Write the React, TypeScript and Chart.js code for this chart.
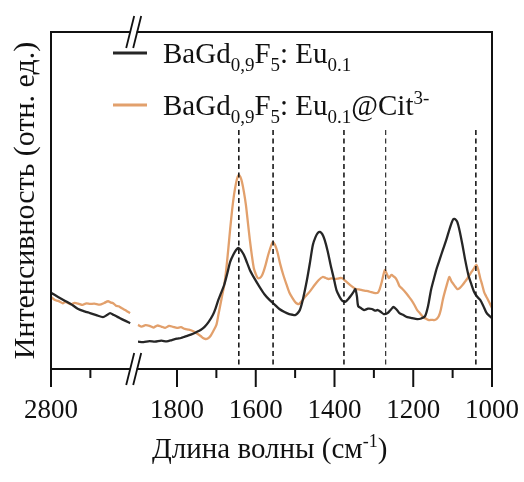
import React, { useEffect, useRef } from 'react';
import { Chart, registerables } from 'chart.js';

Chart.register(...registerables);

const SERIF = '"Liberation Serif", "Times New Roman", Times, serif';

// Axis break: 2800..2600 | 1900..1000 (wavenumber, cm-1)
const BREAK_HIGH = 2600;
const BREAK_LOW = 1900;
const BREAK_GAP = 20;

const majorTicks = [2800, 1800, 1600, 1400, 1200, 1000];
const minorTicks = [2700, 1700, 1500, 1300, 1100];
const peakLines = [1643, 1556, 1376, 1270, 1041];

// BaGd0,9F5:Eu0.1 (black)
const blackLeftWn = [2800, 2782, 2764, 2745, 2731, 2715, 2701, 2685, 2668, 2658, 2650, 2640, 2630, 2615, 2599];
const blackLeftI = [22.6, 21.4, 20.2, 18.9, 17.8, 17.1, 16.6, 16.0, 15.4, 16.0, 16.6, 16.0, 15.4, 14.5, 13.6];
const blackRightWn = [1899, 1885, 1870, 1856, 1840, 1826, 1813, 1800, 1790, 1780, 1765, 1750, 1740, 1730, 1720, 1709, 1702, 1695, 1688, 1680, 1672, 1665, 1657, 1650, 1643, 1636, 1630, 1622, 1615, 1603, 1590, 1578, 1565, 1552, 1540, 1527, 1515, 1507, 1500, 1494, 1488, 1480, 1470, 1462, 1455, 1448, 1442, 1437, 1431, 1425, 1417, 1410, 1402, 1395, 1387, 1380, 1372, 1365, 1358, 1352, 1347, 1343, 1340, 1332, 1325, 1315, 1305, 1297, 1290, 1282, 1275, 1265, 1257, 1250, 1242, 1235, 1225, 1215, 1203, 1190, 1180, 1170, 1162, 1155, 1147, 1140, 1132, 1125, 1117, 1110, 1103, 1098, 1093, 1088, 1082, 1075, 1068, 1060, 1052, 1045, 1038, 1030, 1022, 1015, 1008, 1000];
const blackRightI = [8.1, 8.0, 8.3, 8.1, 8.4, 8.2, 8.6, 9.0, 9.2, 9.6, 10.2, 11.0, 11.6, 12.5, 13.9, 16.0, 18.0, 20.5, 22.6, 25.0, 28.5, 31.8, 33.9, 35.3, 35.9, 35.0, 33.8, 31.5, 29.4, 26.8, 24.3, 22.2, 20.5, 19.1, 17.8, 16.9, 16.3, 16.1, 16.0, 16.5, 17.5, 20.8, 26.4, 31.8, 36.8, 39.2, 40.4, 40.7, 40.0, 38.3, 34.8, 30.9, 27.0, 23.4, 21.4, 20.2, 20.0, 20.8, 21.8, 22.8, 23.7, 21.5, 18.7, 18.0, 17.5, 17.9, 17.8, 17.3, 17.5, 16.9, 16.3, 16.6, 17.6, 18.4, 17.6, 16.6, 16.0, 15.4, 15.1, 14.8, 15.0, 15.7, 18.9, 23.4, 27.0, 30.0, 32.8, 35.3, 38.0, 40.7, 43.2, 44.5, 44.4, 43.6, 40.9, 36.8, 32.3, 27.9, 25.0, 22.8, 21.5, 20.5, 18.7, 16.9, 15.9, 15.1];

// BaGd0,9F5:Eu0.1@Cit3- (orange)
const orangeLeftWn = [2800, 2790, 2782, 2770, 2764, 2750, 2740, 2731, 2720, 2710, 2701, 2690, 2676, 2665, 2655, 2648, 2643, 2635, 2628, 2620, 2612, 2605, 2599];
const orangeLeftI = [21.4, 20.5, 20.2, 19.5, 19.9, 19.2, 19.6, 19.4, 19.0, 19.5, 19.3, 19.4, 19.1, 19.6, 20.1, 19.7, 19.6, 18.8, 18.6, 18.0, 17.5, 17.0, 16.6];
const orangeRightWn = [1899, 1890, 1880, 1870, 1860, 1850, 1840, 1830, 1820, 1810, 1800, 1790, 1780, 1770, 1760, 1750, 1740, 1734, 1728, 1721, 1715, 1708, 1700, 1695, 1690, 1685, 1680, 1675, 1670, 1665, 1660, 1655, 1650, 1646, 1643, 1639, 1635, 1630, 1625, 1620, 1615, 1610, 1605, 1600, 1595, 1590, 1585, 1580, 1575, 1569, 1563, 1559, 1556, 1551, 1545, 1538, 1530, 1522, 1515, 1507, 1500, 1495, 1490, 1482, 1475, 1467, 1460, 1450, 1440, 1430, 1422, 1415, 1407, 1400, 1392, 1385, 1380, 1375, 1368, 1360, 1352, 1345, 1338, 1330, 1322, 1315, 1307, 1300, 1295, 1290, 1285, 1280, 1276, 1272, 1267, 1262, 1258, 1255, 1250, 1245, 1240, 1235, 1228, 1220, 1212, 1205, 1197, 1190, 1182, 1175, 1167, 1160, 1153, 1147, 1141, 1135, 1130, 1125, 1120, 1115, 1111, 1108, 1103, 1098, 1093, 1088, 1082, 1075, 1068, 1060, 1052, 1045, 1040, 1035, 1030, 1025, 1020, 1015, 1010, 1005, 1000];
const orangeRightI = [13.1, 12.6, 13.0, 12.8, 12.3, 12.9, 12.6, 12.2, 12.8, 12.5, 12.2, 12.4, 11.9, 11.7, 11.3, 10.6, 9.8, 9.2, 8.9, 9.1, 9.8, 11.2, 13.1, 16.0, 19.0, 22.0, 24.9, 29.5, 35.3, 41.5, 47.2, 51.8, 55.2, 57.0, 57.6, 57.0, 55.5, 52.5, 48.7, 43.5, 38.3, 33.8, 30.0, 28.2, 27.0, 27.0, 27.6, 29.0, 30.9, 33.6, 35.9, 37.2, 37.7, 36.8, 34.7, 31.2, 27.9, 25.1, 22.8, 21.1, 19.9, 19.4, 19.3, 20.3, 21.4, 22.4, 23.4, 25.0, 26.4, 27.3, 27.0, 26.7, 26.9, 26.7, 26.8, 27.0, 26.9, 26.4, 25.7, 24.9, 24.2, 23.7, 23.6, 23.4, 23.2, 23.1, 22.8, 22.6, 22.5, 22.6, 23.8, 25.8, 27.8, 29.4, 28.2, 27.0, 27.6, 27.9, 27.5, 27.0, 26.0, 24.6, 23.8, 22.8, 21.6, 20.5, 19.0, 17.5, 16.4, 15.4, 14.9, 14.5, 14.6, 14.5, 14.8, 15.7, 17.6, 20.5, 22.8, 24.9, 26.5, 27.3, 26.0, 25.2, 24.4, 23.7, 24.0, 24.9, 26.0, 27.3, 28.8, 30.0, 30.9, 29.5, 27.0, 25.0, 22.8, 21.6, 20.5, 19.3, 18.1];

const BLACK = '#262626';
const ORANGE = 'rgb(226,160,108)';

function toAxis(wn: number): number {
  return wn > (BREAK_HIGH + BREAK_LOW) / 2 ? wn - (BREAK_HIGH - BREAK_LOW) + BREAK_GAP : wn;
}
function fromAxis(v: number): number {
  return v > BREAK_LOW + BREAK_GAP / 2 ? v + (BREAK_HIGH - BREAK_LOW) - BREAK_GAP : v;
}
function pts(wn: number[], iv: number[]) {
  return wn.map((w, i) => ({ x: toAxis(w), y: iv[i] }));
}

type Run = { t: string; k: 'n' | 'sub' | 'sup' };

const legendItems: { color: string; runs: Run[] }[] = [
  {
    color: BLACK,
    runs: [
      { t: 'BaGd', k: 'n' }, { t: '0,9', k: 'sub' }, { t: 'F', k: 'n' }, { t: '5', k: 'sub' },
      { t: ': Eu', k: 'n' }, { t: '0.1', k: 'sub' },
    ],
  },
  {
    color: ORANGE,
    runs: [
      { t: 'BaGd', k: 'n' }, { t: '0,9', k: 'sub' }, { t: 'F', k: 'n' }, { t: '5', k: 'sub' },
      { t: ': Eu', k: 'n' }, { t: '0.1', k: 'sub' }, { t: '@Cit', k: 'n' }, { t: '3-', k: 'sup' },
    ],
  },
];

const xTitleRuns: Run[] = [
  { t: 'Длина волны (см', k: 'n' }, { t: '-1', k: 'sup' }, { t: ')', k: 'n' },
];

function drawRuns(ctx: CanvasRenderingContext2D, runs: Run[], x: number, y: number, size: number, small: number) {
  let cx = x;
  for (const r of runs) {
    const fs = r.k === 'n' ? size : small;
    ctx.font = `${fs}px ${SERIF}`;
    const dy = r.k === 'sub' ? size * 0.28 : r.k === 'sup' ? -size * 0.38 : 0;
    ctx.fillText(r.t, cx, y + dy);
    cx += ctx.measureText(r.t).width;
  }
  return cx;
}

const decorPlugin = {
  id: 'decor',
  afterDatasetsDraw(chart: any) {
    const ctx: CanvasRenderingContext2D = chart.ctx;
    const xs = chart.scales.x;
    const area = chart.chartArea;
    ctx.save();
    ctx.strokeStyle = '#1a1a1a';
    ctx.setLineDash([5, 3.5]);
    peakLines.forEach((p, i) => {
      const x = xs.getPixelForValue(toAxis(p));
      ctx.lineWidth = i === 3 ? 1.1 : 1.6;
      ctx.beginPath();
      ctx.moveTo(x, 130);
      ctx.lineTo(x, area.bottom);
      ctx.stroke();
    });
    ctx.restore();
  },
  afterDraw(chart: any) {
    const ctx: CanvasRenderingContext2D = chart.ctx;
    const xs = chart.scales.x;
    const { left, right, top, bottom } = chart.chartArea;
    ctx.save();
    ctx.strokeStyle = '#111';
    ctx.lineWidth = 2;
    ctx.lineCap = 'butt';
    // frame
    ctx.beginPath();
    ctx.moveTo(left, top - 1);
    ctx.lineTo(left, bottom + 1);
    ctx.moveTo(right, top - 1);
    ctx.lineTo(right, bottom + 1);
    ctx.moveTo(left - 1, top);
    ctx.lineTo(right + 1, top);
    ctx.moveTo(left - 1, bottom);
    ctx.lineTo(right + 1, bottom);
    ctx.stroke();
    // ticks
    majorTicks.forEach((t) => {
      const x = xs.getPixelForValue(toAxis(t));
      ctx.beginPath();
      ctx.moveTo(x, bottom);
      ctx.lineTo(x, bottom + 18);
      ctx.stroke();
    });
    minorTicks.forEach((t) => {
      const x = xs.getPixelForValue(toAxis(t));
      ctx.beginPath();
      ctx.moveTo(x, bottom);
      ctx.lineTo(x, bottom + 9);
      ctx.stroke();
    });
    // break marks
    const bx = (xs.getPixelForValue(toAxis(BREAK_HIGH)) + xs.getPixelForValue(toAxis(BREAK_LOW))) / 2;
    [top, bottom].forEach((yy) => {
      ctx.fillStyle = '#fff';
      ctx.fillRect(bx - 3, yy - 2, 6, 4);
      ctx.lineWidth = 1.8;
      [-3.5, 3.5].forEach((o) => {
        ctx.beginPath();
        ctx.moveTo(bx + o - 4, yy + 16);
        ctx.lineTo(bx + o + 4, yy - 16);
        ctx.stroke();
      });
    });
    // legend
    ctx.fillStyle = '#111';
    ctx.textBaseline = 'alphabetic';
    ctx.textAlign = 'left';
    const legendY = [63, 115];
    legendItems.forEach((it, i) => {
      const ly = legendY[i];
      ctx.strokeStyle = it.color;
      ctx.lineWidth = 2.8;
      ctx.beginPath();
      ctx.moveTo(113, ly - 10);
      ctx.lineTo(147, ly - 10);
      ctx.stroke();
      drawRuns(ctx, it.runs, 163, ly, 29, 19);
    });
    // x title
    drawRuns(ctx, xTitleRuns, 152, 458, 29, 18);
    ctx.restore();
  },
};

export default function App() {
  const ref = useRef<HTMLCanvasElement | null>(null);
  useEffect(() => {
    if (!ref.current) return;
    const chart = new Chart(ref.current, {
      type: 'line',
      data: {
        datasets: [
          { label: 'black-left', data: pts(blackLeftWn, blackLeftI), borderColor: BLACK },
          { label: 'black-right', data: pts(blackRightWn, blackRightI), borderColor: BLACK },
          { label: 'orange-left', data: pts(orangeLeftWn, orangeLeftI), borderColor: ORANGE },
          { label: 'orange-right', data: pts(orangeRightWn, orangeRightI), borderColor: ORANGE },
        ].map((d) => ({ ...d, borderWidth: 2.3, pointRadius: 0, tension: 0.25, fill: false })),
      },
      options: {
        responsive: false,
        animation: false,
        layout: { padding: { top: 32, right: 32, left: 0, bottom: 0 } },
        plugins: { legend: { display: false }, tooltip: { enabled: false } },
        scales: {
          x: {
            type: 'linear',
            reverse: true,
            min: toAxis(1000),
            max: toAxis(2800),
            grid: { display: false, drawTicks: false },
            border: { display: false },
            afterBuildTicks: (s: any) => {
              s.ticks = majorTicks.map((v) => ({ value: toAxis(v) }));
            },
            afterFit: (s: any) => {
              s.height = 113;
              s.paddingLeft = 0;
              s.paddingRight = 0;
            },
            ticks: {
              autoSkip: false,
              maxRotation: 0,
              padding: 26,
              color: '#111',
              font: { family: SERIF, size: 27 },
              callback: (v: any) => String(Math.round(fromAxis(Number(v)))),
            },
          },
          y: {
            min: 0,
            max: 100,
            grid: { display: false, drawTicks: false },
            border: { display: false },
            ticks: { display: false },
            afterFit: (s: any) => {
              s.width = 51;
              s.paddingTop = 0;
              s.paddingBottom = 0;
            },
            title: {
              display: true,
              text: 'Интенсивность (отн. ед.)',
              color: '#111',
              font: { family: SERIF, size: 30 },
              padding: { top: 8, bottom: 0 },
            },
          },
        },
      },
      plugins: [decorPlugin],
    });
    return () => chart.destroy();
  }, []);
  return (
    <div style={{ position: 'fixed', left: 0, top: 0, width: 524, height: 482, background: '#fff' }}>
      <canvas ref={ref} width={524} height={482} />
    </div>
  );
}
